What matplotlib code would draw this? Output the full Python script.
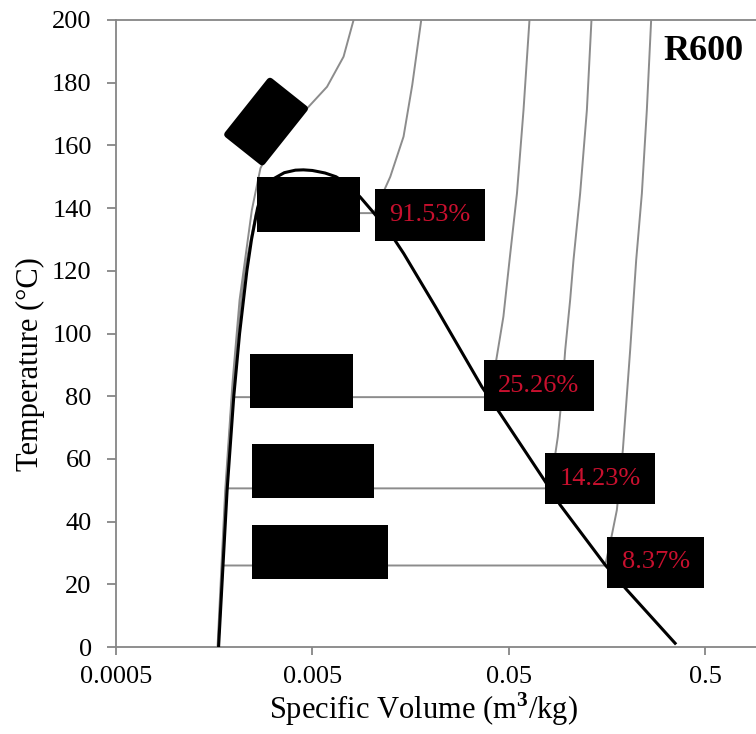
import matplotlib
matplotlib.use("Agg")
import matplotlib.pyplot as plt
from matplotlib.patches import Rectangle, FancyBboxPatch
from matplotlib.transforms import Affine2D, ScaledTranslation

plt.rcParams['font.family'] = ['Liberation Serif', 'DejaVu Serif']
plt.rcParams['mathtext.fontset'] = 'custom'
plt.rcParams['mathtext.rm'] = 'Liberation Serif'
plt.rcParams['mathtext.bf'] = 'Liberation Serif:bold'

# ---------------- data ----------------
# saturation dome (black)
liq_T = [0, 25, 50, 80, 100, 120, 130, 140, 145, 149.5, 151.3, 152.1, 152.2]
liq_v = [0.001665, 0.00175, 0.00184, 0.00199, 0.00213, 0.00232, 0.00245,
         0.00263, 0.00278, 0.0032, 0.0036, 0.0041, 0.0045]
vap_T = [152.2, 152.0, 151.2, 150.0, 147.5, 143.5, 138.4, 132.0, 125.5,
         108.5, 83.0, 74.5, 53.3, 45.3, 26.2, 18.2, 1.2]
vap_v = [0.0045, 0.0050, 0.0058, 0.0066, 0.0076, 0.00877, 0.0103, 0.01247,
         0.0146, 0.0212, 0.0365, 0.0452, 0.0758, 0.0915, 0.155, 0.200, 0.352]

# isobars (grey)
p1_T = [0, 26.0, 26.0, 35.7, 43.7, 62.8, 94.7, 123.4, 144.7, 171.3, 200]
p1_v = [0.001662, 0.001752, 0.155, 0.1676, 0.1778, 0.1907, 0.2078, 0.2230,
        0.2384, 0.2527, 0.2658]
p2_T = [0, 25, 50.6, 50.6, 58.0, 67.1, 80.0, 94.7, 110.7, 123.4, 144.7, 171.3, 200]
p2_v = [0.001661, 0.001745, 0.001838, 0.081, 0.0847, 0.0890, 0.0933, 0.0970,
        0.1028, 0.1069, 0.1156, 0.1251, 0.1320]
p3_T = [0, 25, 50, 79.7, 79.7, 91.5, 105.4, 123.4, 144.7, 171.3, 200]
p3_v = [0.001659, 0.001742, 0.001832, 0.00198, 0.0396, 0.0432, 0.0470, 0.0505,
        0.0551, 0.0595, 0.0638]
p4_T = [0, 25, 50, 80, 100, 120, 138.4, 138.4, 146.4, 150.0, 162.8, 179.3, 200]
p4_v = [0.001652, 0.00173, 0.001815, 0.00195, 0.00208, 0.00226, 0.00258,
        0.0103, 0.01175, 0.01247, 0.01457, 0.01614, 0.01793]
p5_T = [0, 25, 50, 84.2, 110.7, 139.4, 152.7, 158, 162, 166, 172.9, 178.7,
        188.3, 200]
p5_v = [0.001645, 0.00172, 0.0018, 0.00196, 0.00213, 0.00246, 0.00272,
        0.00300, 0.00343, 0.00386, 0.00488, 0.00594, 0.00721, 0.00811]

# quality labels
q_labels = ["91.53%", "25.26%", "14.23%", "8.37%"]
q_v = [0.0199, 0.0711, 0.1462, 0.2802]
q_T = [137.8, 83.3, 53.6, 27.0]

x_ticks = [0.0005, 0.005, 0.05, 0.5]
x_ticklabels = ["0.0005", "0.005", "0.05", "0.5"]
y_ticks = list(range(0, 201, 20))

# ---------------- layout ----------------
# blacked-out label boxes: (v_left, v_right, T_bottom, T_top)
hidden_boxes = [(0.002621, 0.008766, 132.4, 149.9),
                (0.002414, 0.008078, 76.2, 93.5),
                (0.002471, 0.01033, 47.5, 64.8),
                (0.002471, 0.01218, 21.7, 38.9)]
rot_box_center = (0.002906, 167.6)
rot_box_size_px = (75, 51)
rot_box_angle = 51.5

GREY = '#8c8c8c'
AXC = '#868686'

fig = plt.figure(figsize=(7.56, 7.34), dpi=100)
ax = fig.add_axes([116/756, 87/734, 640/756, 627/734])
ax.set_xscale('log')
ax.set_xlim(0.0005, 0.909)
ax.set_ylim(0, 200)

for T, v in [(p1_T, p1_v), (p2_T, p2_v), (p3_T, p3_v), (p4_T, p4_v), (p5_T, p5_v)]:
    ax.plot(v, T, color=GREY, lw=1.4, zorder=2, solid_joinstyle='round')

ax.plot(liq_v + vap_v[1:], liq_T + vap_T[1:], color='black', lw=2.2, zorder=3,
        solid_joinstyle='round')

for (vl, vr, tb, tt) in hidden_boxes:
    ax.add_patch(Rectangle((vl, tb), vr - vl, tt - tb, facecolor='black',
                           edgecolor='none', zorder=5))

w, h = rot_box_size_px
tr = (Affine2D().rotate_deg(rot_box_angle) +
      ScaledTranslation(rot_box_center[0], rot_box_center[1], ax.transData))
ax.add_patch(FancyBboxPatch((-w/2, -h/2), w, h,
                            boxstyle="round,pad=0,rounding_size=4",
                            facecolor='black', edgecolor='none',
                            transform=tr, zorder=5))

for lab, v, T in zip(q_labels, q_v, q_T):
    ax.text(v, T, lab, color='#c8102e', fontsize=19, ha='center', va='center',
            zorder=6,
            bbox=dict(boxstyle='square,pad=0.55', facecolor='black',
                      edgecolor='none'))

ax.text(0.855, 0.949, "R600", transform=ax.transAxes, fontsize=26,
        fontweight='bold', ha='left', va='center')

ax.set_xticks(x_ticks)
ax.set_xticklabels(x_ticklabels)
ax.xaxis.set_minor_locator(matplotlib.ticker.NullLocator())
ax.set_yticks(y_ticks)

for s in ['left', 'bottom', 'top']:
    ax.spines[s].set_color(AXC)
    ax.spines[s].set_linewidth(1.3)
ax.spines['right'].set_visible(False)
ax.tick_params(axis='both', direction='out', color=AXC, width=1.3,
               labelsize=19, labelcolor='black')
ax.tick_params(axis='y', length=6.5, pad=11)
ax.tick_params(axis='x', length=6, pad=8)

ax.set_xlabel(r'Specific Volume (m$^{\mathbf{3}}$/kg)', fontsize=22)
ax.set_ylabel('Temperature (°C)', fontsize=22)
ax.xaxis.set_label_coords(0.48, -0.1)
ax.xaxis.label.set_va('center')
ax.yaxis.set_label_coords(-0.134, 0.451)
ax.yaxis.label.set_va('center')

fig.savefig('out.png', dpi=100)
